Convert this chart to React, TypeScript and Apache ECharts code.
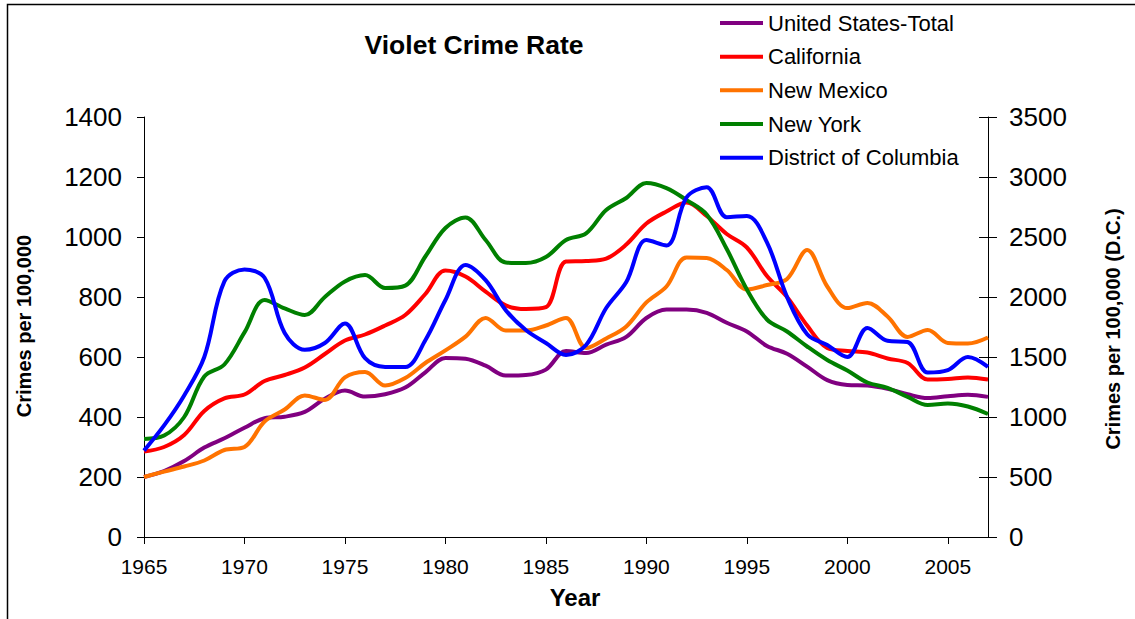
import React, { useEffect, useRef } from "react";
import * as echarts from "echarts";

const years = [
  1965, 1966, 1967, 1968, 1969, 1970, 1971, 1972, 1973, 1974, 1975, 1976, 1977, 1978, 1979,
  1980, 1981, 1982, 1983, 1984, 1985, 1986, 1987, 1988, 1989, 1990, 1991, 1992, 1993, 1994,
  1995, 1996, 1997, 1998, 1999, 2000, 2001, 2002, 2003, 2004, 2005, 2006, 2007,
];

const usTotal = [
  200, 220, 253, 298, 329, 364, 396, 401, 417, 461, 488, 468, 476, 498, 549,
  597, 594, 571, 538, 540, 558, 620, 613, 641, 667, 730, 758, 758, 747, 714,
  685, 637, 611, 568, 523, 507, 505, 494, 476, 463, 469, 474, 467,
];

const california = [
  285, 300, 340, 420, 462, 475, 520, 540, 565, 610, 655, 675, 705, 740, 810,
  888, 868, 818, 772, 760, 766, 918, 920, 928, 975, 1045, 1085, 1115, 1070, 1010,
  965, 870, 800, 705, 630, 620, 615, 595, 580, 525, 527, 532, 525,
];

const newMexico = [
  200, 218, 235, 255, 290, 300, 385, 425, 472, 457, 532, 550, 505, 530, 580,
  622, 668, 730, 688, 688, 705, 730, 630, 662, 702, 782, 835, 932, 930, 890,
  825, 840, 860, 957, 835, 763, 780, 735, 667, 690, 647, 645, 665,
];

const newYork = [
  327, 338, 400, 535, 575, 682, 790, 762, 740, 800, 852, 873, 830, 838, 935,
  1030, 1065, 990, 915, 913, 933, 990, 1012, 1090, 1130, 1180, 1163, 1123, 1075, 960,
  825, 725, 685, 635, 590, 555, 515, 497, 467, 440, 445, 435, 410,
];

const dc = [
  720, 930, 1180, 1500, 2130, 2230, 2160, 1700, 1560, 1617, 1780, 1490, 1417, 1417, 1640,
  1975, 2267, 2140, 1890, 1725, 1617, 1517, 1600, 1908, 2125, 2475, 2430, 2830, 2915, 2665,
  2675, 2455, 2000, 1690, 1600, 1500, 1742, 1635, 1625, 1370, 1390, 1500, 1418,
];

const seriesNames = [
  "United States-Total",
  "California",
  "New Mexico",
  "New York",
  "District of Columbia",
];
const seriesColors = ["#800080", "#FF0000", "#FF7300", "#008000", "#0000FF"];
const seriesValues = [usTotal, california, newMexico, newYork, dc];
const seriesAxis = [0, 0, 0, 0, 1];

const leftTicks = { min: 0, max: 1400, interval: 200 };
const rightTicks = { min: 0, max: 3500, interval: 500 };

const FONT = "'Liberation Sans', Arial, sans-serif";

export default function App() {
  const ref = useRef<HTMLDivElement>(null);

  useEffect(() => {
    document.body.style.margin = "0";
    if (!ref.current) return;
    const chart = echarts.init(ref.current, undefined, { renderer: "svg" });

    const axisLineStyle = { color: "#000", width: 1 };
    const fmt = (v: number) => String(v);

    const option: any = {
      animation: false,
      backgroundColor: "#fff",
      textStyle: { fontFamily: FONT, color: "#000" },
      title: {
        text: "Violet Crime Rate",
        left: 474,
        top: 31,
        textAlign: "center",
        padding: 0,
        textStyle: { fontFamily: FONT, fontSize: 26.5, fontWeight: "bold", color: "#000" },
      },
      legend: {
        orient: "vertical",
        left: 720,
        top: 12,
        itemWidth: 43,
        itemHeight: 4,
        itemGap: 11.67,
        padding: 0,
        textStyle: { fontFamily: FONT, fontSize: 22, color: "#000", lineHeight: 22 },
        data: seriesNames.map((n) => ({ name: n, icon: "rect" })),
      },
      grid: { left: 144, right: 147, top: 117, bottom: 82 },
      xAxis: {
        type: "value",
        min: 1965,
        max: 2007,
        interval: 5,
        axisLine: { lineStyle: axisLineStyle },
        axisTick: { length: 7, lineStyle: axisLineStyle },
        axisLabel: {
          fontFamily: FONT,
          fontSize: 21,
          color: "#000",
          margin: 19,
          showMaxLabel: false,
          formatter: fmt,
        },
        splitLine: { show: false },
      },
      yAxis: [
        {
          type: "value",
          position: "left",
          ...leftTicks,
          axisLine: { show: true, lineStyle: axisLineStyle },
          axisTick: { show: true, length: 7, lineStyle: axisLineStyle },
          axisLabel: { fontFamily: FONT, fontSize: 26, color: "#000", margin: 22, formatter: fmt },
          splitLine: { show: false },
        },
        {
          type: "value",
          position: "right",
          ...rightTicks,
          axisLine: { show: true, lineStyle: axisLineStyle },
          axisTick: { show: true, length: 9, lineStyle: axisLineStyle },
          axisLabel: { fontFamily: FONT, fontSize: 26, color: "#000", margin: 21, formatter: fmt },
          splitLine: { show: false },
        },
        {
          type: "value",
          position: "right",
          ...rightTicks,
          axisLine: { show: false },
          axisTick: { show: true, inside: true, length: 9, lineStyle: axisLineStyle },
          axisLabel: { show: false },
          splitLine: { show: false },
        },
      ],
      graphic: [
        {
          type: "rect",
          z: -10,
          silent: true,
          shape: { x: 7.5, y: 4.5, width: 1300, height: 800 },
          style: { fill: "none", stroke: "#000", lineWidth: 1.5 },
        },
        {
          type: "text",
          x: 24,
          y: 326,
          rotation: Math.PI / 2,
          style: {
            text: "Crimes per 100,000",
            fontFamily: FONT,
            fontSize: 20,
            fontWeight: "bold",
            fill: "#000",
            align: "center",
            verticalAlign: "middle",
          },
        },
        {
          type: "text",
          x: 1113,
          y: 329,
          rotation: Math.PI / 2,
          style: {
            text: "Crimes per 100,000 (D.C.)",
            fontFamily: FONT,
            fontSize: 20,
            fontWeight: "bold",
            fill: "#000",
            align: "center",
            verticalAlign: "middle",
          },
        },
        {
          type: "text",
          x: 575,
          y: 597,
          style: {
            text: "Year",
            fontFamily: FONT,
            fontSize: 24,
            fontWeight: "bold",
            fill: "#000",
            align: "center",
            verticalAlign: "middle",
          },
        },
      ],
      series: seriesNames.map((name, i) => ({
        name,
        type: "line",
        yAxisIndex: seriesAxis[i],
        smooth: 0.35,
        showSymbol: false,
        symbol: "none",
        color: seriesColors[i],
        lineStyle: { color: seriesColors[i], width: 4 },
        data: years.map((y, j) => [y, seriesValues[i][j]]),
      })),
    };

    chart.setOption(option);
    return () => chart.dispose();
  }, []);

  return <div ref={ref} style={{ width: 1135, height: 619 }} />;
}
